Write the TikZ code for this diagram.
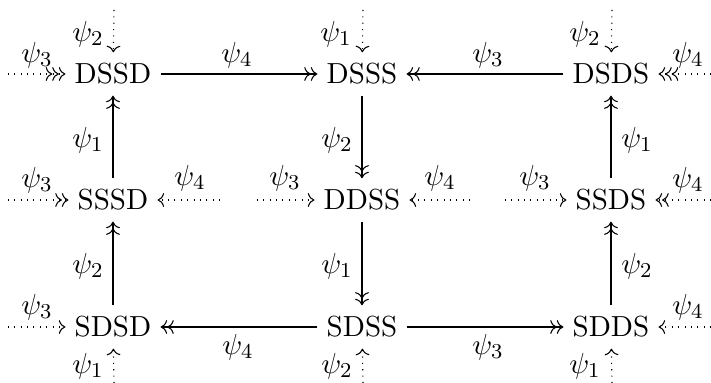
\documentclass[tikz,border=0pt,11pt]{standalone}
\usetikzlibrary{arrows.meta}
\begin{document}
\begin{tikzpicture}[x=0.3774pt,y=-0.3774pt,
  st/.style={inner xsep=3.3pt, inner ysep=4pt},
  lab/.style={inner sep=0pt},
  aone/.style={-{To[]}},
  atwo/.style={-{To[]To[]}},
  athree/.style={-{To[]To[]To[]}},
  ext/.style={dotted}]
\useasboundingbox (0,0) rectangle (711,383);
% states
\node[st] (DSSD) at (113,74) {DSSD};
\node[st] (DSSS) at (362,74) {DSSS};
\node[st] (DSDS) at (611,74) {DSDS};
\node[st] (SSSD) at (113,200) {SSSD};
\node[st] (DDSS) at (362,200) {DDSS};
\node[st] (SSDS) at (611,200) {SSDS};
\node[st] (SDSD) at (113,327) {SDSD};
\node[st] (SDSS) at (362,327) {SDSS};
\node[st] (SDDS) at (611,327) {SDDS};
% outer start points
\coordinate (t1) at (114,10);
\coordinate (t2) at (363,10);
\coordinate (t3) at (612,10);
\coordinate (b1) at (114,383);
\coordinate (b2) at (363,383);
\coordinate (b3) at (612,383);
\coordinate (l1) at (8,74);
\coordinate (l2) at (8,200);
\coordinate (l3) at (8,327);
\coordinate (r1) at (711,74);
\coordinate (r2) at (711,200);
\coordinate (r3) at (711,327);
\coordinate (m1) at (220,200);
\coordinate (m2) at (257,200);
\coordinate (m3) at (470,200);
\coordinate (m4) at (505,200);
% solid transitions
\draw[atwo] (DSSD) -- (DSSS);
\draw[atwo] (DSDS) -- (DSSS);
\draw[atwo] (SSSD) -- (DSSD);
\draw[atwo] (DSSS) -- (DDSS);
\draw[atwo] (SSDS) -- (DSDS);
\draw[atwo] (DDSS) -- (SDSS);
\draw[atwo] (SDSD) -- (SSSD);
\draw[atwo] (SDDS) -- (SSDS);
\draw[atwo] (SDSS) -- (SDSD);
\draw[atwo] (SDSS) -- (SDDS);
% dotted inputs
\draw[ext,aone] (t1) -- (DSSD);
\draw[ext,aone] (t2) -- (DSSS);
\draw[ext,aone] (t3) -- (DSDS);
\draw[ext,aone] (b1) -- (SDSD);
\draw[ext,aone] (b2) -- (SDSS);
\draw[ext,aone] (b3) -- (SDDS);
\draw[ext,athree] (l1) -- (DSSD);
\draw[ext,atwo] (l2) -- (SSSD);
\draw[ext,aone] (l3) -- (SDSD);
\draw[ext,athree] (r1) -- (DSDS);
\draw[ext,atwo] (r2) -- (SSDS);
\draw[ext,aone] (r3) -- (SDDS);
\draw[ext,aone] (m1) -- (SSSD);
\draw[ext,aone] (m2) -- (DDSS);
\draw[ext,aone] (m3) -- (DDSS);
\draw[ext,aone] (m4) -- (SSDS);
% labels
\node[lab] (p1) at (237,55) {$\psi_4$};
\node[lab] (p2) at (488,55) {$\psi_3$};
\node[lab] (p3) at (238,347) {$\psi_4$};
\node[lab] (p4) at (488,347) {$\psi_3$};
\node[lab] (p5) at (88,140) {$\psi_1$};
\node[lab] (p6) at (337,140) {$\psi_2$};
\node[lab] (p7) at (637,140) {$\psi_1$};
\node[lab] (p8) at (88,266) {$\psi_2$};
\node[lab] (p9) at (337,266) {$\psi_1$};
\node[lab] (p10) at (637,266) {$\psi_2$};
\node[lab] (p11) at (88,34) {$\psi_2$};
\node[lab] (p12) at (336,34) {$\psi_1$};
\node[lab] (p13) at (585,34) {$\psi_2$};
\node[lab] (p14) at (88,366) {$\psi_1$};
\node[lab] (p15) at (337,366) {$\psi_2$};
\node[lab] (p16) at (585,366) {$\psi_1$};
\node[lab] (p17) at (37,55) {$\psi_3$};
\node[lab] (p18) at (37,180) {$\psi_3$};
\node[lab] (p19) at (37,307) {$\psi_3$};
\node[lab] (p20) at (688,55) {$\psi_4$};
\node[lab] (p21) at (688,180) {$\psi_4$};
\node[lab] (p22) at (688,307) {$\psi_4$};
\node[lab] (p23) at (190,178) {$\psi_4$};
\node[lab] (p24) at (285,178) {$\psi_3$};
\node[lab] (p25) at (440,178) {$\psi_4$};
\node[lab] (p26) at (535,178) {$\psi_3$};
\end{tikzpicture}
\end{document}
